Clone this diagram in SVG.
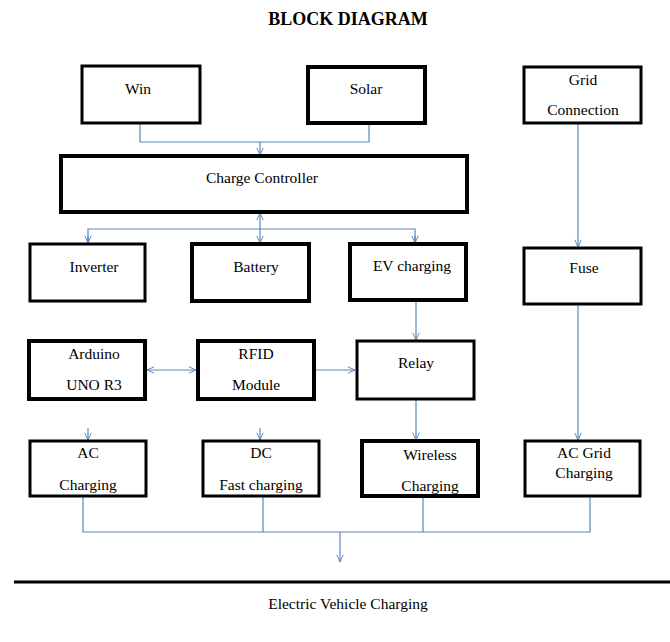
<svg xmlns="http://www.w3.org/2000/svg" width="670" height="642" viewBox="0 0 670 642">
<defs>
<marker id="ah" viewBox="0 0 10 10" refX="10" refY="5" markerWidth="8" markerHeight="8" markerUnits="userSpaceOnUse" orient="auto-start-reverse">
<path d="M1,1 L10,5 L1,9" fill="none" stroke="#5b86c0" stroke-width="1.2"/>
</marker>
</defs>
<style>
.box{fill:#fff;stroke:#000;stroke-width:3}
.thk{stroke-width:4}
text{font-family:"Liberation Serif","Times New Roman",serif;font-size:15.5px;fill:#000;text-anchor:middle}
.c{fill:none;stroke:#5b86c0;stroke-width:1.2}
</style>
<rect width="670" height="642" fill="#fff"/>
<text x="348" y="25" style="font-weight:bold;font-size:18px">BLOCK DIAGRAM</text>

<g id="connectors">
<path class="c" d="M140,124 V142 H369 V124"/>
<path class="c" d="M260,142 V155" marker-end="url(#ah)"/>
<path class="c" d="M260,213 V243" marker-start="url(#ah)" marker-end="url(#ah)"/>
<path class="c" d="M88,243 V229 H415 V243"/>
<path class="c" d="M88,236 V243" marker-end="url(#ah)"/>
<path class="c" d="M415,236 V243" marker-end="url(#ah)"/>
<path class="c" d="M578,124 V247" marker-end="url(#ah)"/>
<path class="c" d="M416,301 V340" marker-end="url(#ah)"/>
<path class="c" d="M147,370 H196" marker-start="url(#ah)" marker-end="url(#ah)"/>
<path class="c" d="M315,370 H355" marker-end="url(#ah)"/>
<path class="c" d="M416,400 V440" marker-end="url(#ah)"/>
<path class="c" d="M578,305 V440" marker-end="url(#ah)"/>
<path class="c" d="M88,428 V440" marker-end="url(#ah)"/>
<path class="c" d="M260,428 V440" marker-end="url(#ah)"/>
<path class="c" d="M83,497 V532 H590 V497"/>
<path class="c" d="M263,497 V532"/>
<path class="c" d="M423,497 V532"/>
<path class="c" d="M340,532 V562" marker-end="url(#ah)"/>
</g>

<g id="win"><rect class="box" x="82" y="66" width="118" height="57"/><text x="138" y="94">Win</text></g>
<g id="solar"><rect class="box thk" x="308" y="67" width="117" height="56"/><text x="366" y="94">Solar</text></g>
<g id="grid"><rect class="box" x="524" y="67" width="117" height="56"/><text x="583" y="85">Grid</text><text x="583" y="115">Connection</text></g>
<g id="charge-controller"><rect class="box thk" x="61" y="156" width="406" height="56"/><text x="262" y="183">Charge Controller</text></g>
<g id="inverter"><rect class="box" x="30" y="244" width="115" height="57"/><text x="94" y="272">Inverter</text></g>
<g id="battery"><rect class="box thk" x="192" y="244" width="117" height="57"/><text x="256" y="272">Battery</text></g>
<g id="ev-charging"><rect class="box thk" x="350" y="244" width="116" height="56"/><text x="412" y="271">EV charging</text></g>
<g id="fuse"><rect class="box" x="524" y="248" width="117" height="56"/><text x="584" y="273">Fuse</text></g>
<g id="arduino"><rect class="box thk" x="29" y="341" width="116" height="58"/><text x="94" y="359">Arduino</text><text x="94" y="390">UNO R3</text></g>
<g id="rfid"><rect class="box thk" x="198" y="341" width="116" height="58"/><text x="256" y="359">RFID</text><text x="256" y="390">Module</text></g>
<g id="relay"><rect class="box" x="357" y="341" width="117" height="58"/><text x="416" y="368">Relay</text></g>
<g id="ac-charging"><rect class="box" x="30" y="441" width="116" height="55"/><text x="88" y="458">AC</text><text x="88" y="490">Charging</text></g>
<g id="dc-charging"><rect class="box" x="203" y="441" width="116" height="55"/><text x="261" y="458">DC</text><text x="261" y="490">Fast charging</text></g>
<g id="wireless"><rect class="box thk" x="362" y="441" width="116" height="55"/><text x="430" y="460">Wireless</text><text x="430" y="491">Charging</text></g>
<g id="ac-grid"><rect class="box" x="525" y="441" width="115" height="55"/><text x="584" y="458">AC Grid</text><text x="584" y="478">Charging</text></g>

<line x1="14" y1="582" x2="670" y2="582" stroke="#000" stroke-width="3"/>
<text x="348" y="609">Electric Vehicle Charging</text>
</svg>
